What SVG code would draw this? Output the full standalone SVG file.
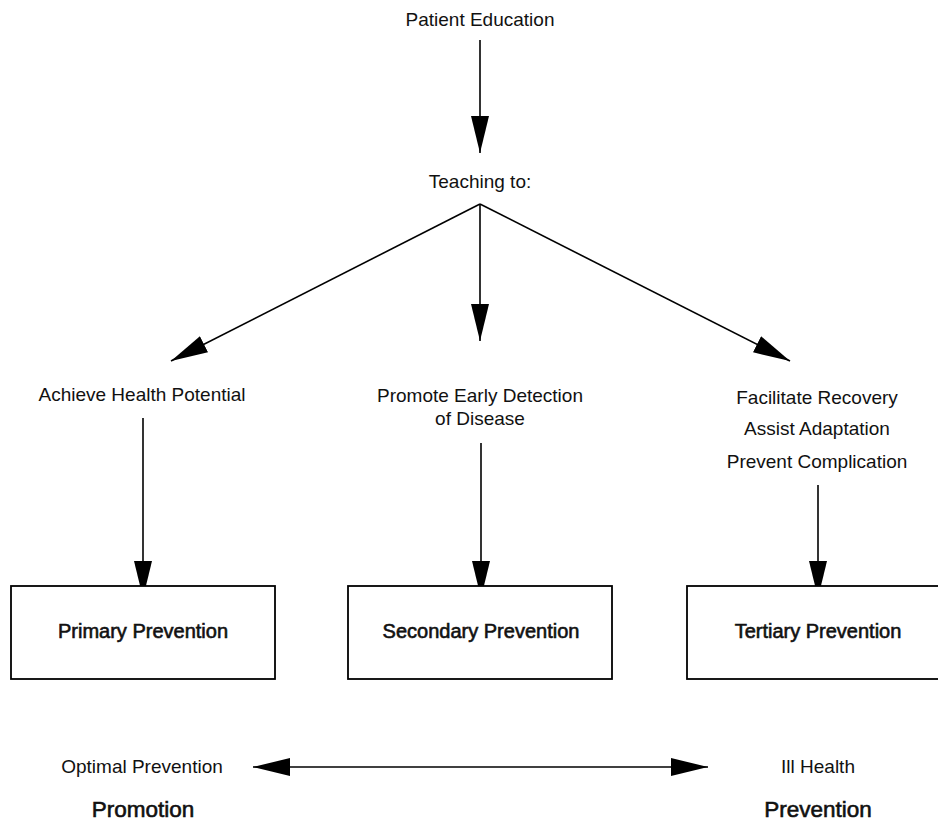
<svg xmlns="http://www.w3.org/2000/svg" width="938" height="822" viewBox="0 0 938 822">
<style>
text{font-family:"Liberation Sans",Arial,sans-serif;fill:#111;text-anchor:middle}
.t{font-size:19px}
.b{font-size:20px;stroke:#111;stroke-width:0.6}
.big{font-size:22.5px;stroke:#111;stroke-width:0.6}
.box{fill:#fff;stroke:#000;stroke-width:1.8}
.c{stroke:#000;stroke-width:1.6;fill:none}
</style>
<defs>
<marker id="ah" markerUnits="userSpaceOnUse" markerWidth="38" markerHeight="18" refX="37" refY="9" orient="auto">
<path d="M0,0 L37,9 L0,18 Z" fill="#000"/>
</marker>
<marker id="ahs" markerUnits="userSpaceOnUse" markerWidth="38" markerHeight="18" refX="37" refY="9" orient="auto-start-reverse">
<path d="M0,0 L37,9 L0,18 Z" fill="#000"/>
</marker>
</defs>
<rect width="938" height="822" fill="#fff"/>
<g id="connectors">
<line class="c" x1="480" y1="40" x2="480" y2="153" marker-end="url(#ah)"/>
<line class="c" x1="480" y1="204" x2="171" y2="361" marker-end="url(#ah)"/>
<line class="c" x1="480" y1="204" x2="480" y2="341" marker-end="url(#ah)"/>
<line class="c" x1="480" y1="204" x2="790" y2="361" marker-end="url(#ah)"/>
<line class="c" x1="143" y1="418" x2="143" y2="598" marker-end="url(#ah)"/>
<line class="c" x1="481" y1="443" x2="481" y2="598" marker-end="url(#ah)"/>
<line class="c" x1="818" y1="485" x2="818" y2="598" marker-end="url(#ah)"/>
<line class="c" x1="253" y1="767" x2="708" y2="767" marker-start="url(#ahs)" marker-end="url(#ahs)"/>
</g>
<g id="patient-education"><text class="t" x="480" y="26">Patient Education</text></g>
<g id="teaching"><text class="t" x="480" y="188">Teaching to:</text></g>
<g id="achieve"><text class="t" x="142" y="401">Achieve Health Potential</text></g>
<g id="promote"><text class="t" x="480" y="402">Promote Early Detection</text><text class="t" x="480" y="425">of Disease</text></g>
<g id="facilitate"><text class="t" x="817" y="404">Facilitate Recovery</text><text class="t" x="817" y="435">Assist Adaptation</text><text class="t" x="817" y="468">Prevent Complication</text></g>
<g id="primary"><rect class="box" x="11" y="586" width="264" height="93"/><text class="b" x="143" y="638">Primary Prevention</text></g>
<g id="secondary"><rect class="box" x="348" y="586" width="264" height="93"/><text class="b" x="481" y="638">Secondary Prevention</text></g>
<g id="tertiary"><rect class="box" x="687" y="586" width="264" height="93"/><text class="b" x="818" y="638">Tertiary Prevention</text></g>
<g id="optimal"><text class="t" x="142" y="773">Optimal Prevention</text><text class="big" x="143" y="817">Promotion</text></g>
<g id="ill-health"><text class="t" x="818" y="773">Ill Health</text><text class="big" x="818" y="817">Prevention</text></g>
</svg>
